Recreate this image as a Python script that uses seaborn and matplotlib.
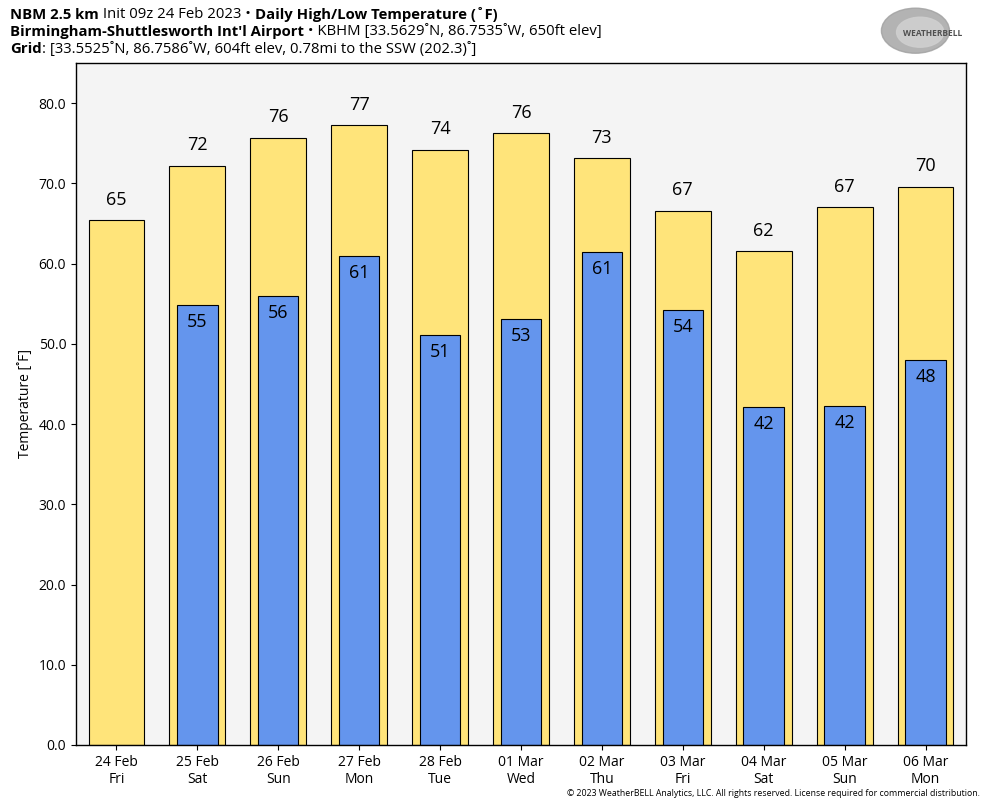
import matplotlib
matplotlib.use("Agg")
import matplotlib.pyplot as plt
import pandas as pd
import seaborn as sns
from matplotlib.patches import Ellipse

# Data
days = ['24 Feb\nFri', '25 Feb\nSat', '26 Feb\nSun', '27 Feb\nMon', '28 Feb\nTue',
        '01 Mar\nWed', '02 Mar\nThu', '03 Mar\nFri', '04 Mar\nSat', '05 Mar\nSun',
        '06 Mar\nMon']
highs = [65.4, 72.2, 75.7, 77.3, 74.2, 76.3, 73.1, 66.6, 61.6, 67.0, 69.6]
lows = [None, 54.8, 56.0, 61.0, 51.1, 53.1, 61.4, 54.2, 42.1, 42.2, 48.0]

df = pd.DataFrame({'day': days, 'high': highs, 'low': lows})

sns.set_style('ticks')
plt.rcParams['font.family'] = ['Open Sans', 'DejaVu Sans']
plt.rcParams['text.color'] = 'black'
plt.rcParams['axes.labelcolor'] = 'black'
plt.rcParams['xtick.color'] = 'black'
plt.rcParams['ytick.color'] = 'black'
plt.rcParams['axes.edgecolor'] = 'black'

fig = plt.figure(figsize=(9.84, 8.08), dpi=100)
ax = fig.add_axes([0.0772, 0.078, 0.9045, 0.844])
ax.set_facecolor('#f4f4f4')

sns.barplot(data=df, x='day', y='high', order=days, width=0.69,
            color='#ffe47a', saturation=1, edgecolor='black', linewidth=0.8, ax=ax)
sns.barplot(data=df.dropna(), x='day', y='low', order=days, width=0.5,
            color='#6495ed', saturation=1, edgecolor='black', linewidth=0.8, ax=ax)

# value labels
for i, (h, l) in enumerate(zip(highs, lows)):
    ax.text(i, h + 1.4, f'{round(h)}', ha='center', va='bottom', fontsize=13)
    if l is not None:
        ax.text(i, l - 1.0, f'{round(l)}', ha='center', va='top', fontsize=13)

ax.set_xlim(-0.5, len(days) - 0.5)
ax.set_ylim(0, 85)
ax.set_yticks(range(0, 81, 10))
ax.set_yticklabels([f'{v:.1f}' for v in range(0, 81, 10)], fontsize=10)
ax.tick_params(axis='x', labelsize=10)
ax.set_xlabel('')
ax.set_ylabel('Temperature [˚F]', fontsize=10)
for s in ax.spines.values():
    s.set_visible(True)
    s.set_linewidth(1)

# title, mixing bold and regular pieces on each line
lines = [
    [('NBM 2.5 km', 'bold'), (' Init 09z 24 Feb 2023 • ', 'normal'),
     ('Daily High/Low Temperature (˚F)', 'bold')],
    [('Birmingham-Shuttlesworth Int′l Airport', 'bold'),
     (' • KBHM [33.5629˚N, 86.7535˚W, 650ft elev]', 'normal')],
    [('Grid', 'bold'), (': [33.5525˚N, 86.7586˚W, 604ft elev, 0.78mi to the SSW (202.3)˚]', 'normal')],
]
fig.canvas.draw()
renderer = fig.canvas.get_renderer()
y0 = 1 - 15 / 808
for row in lines:
    x = 10 / 984
    for txt, w in row:
        t = fig.text(x, y0, txt, fontsize=10.7, fontweight=w, va='center', ha='left')
        bb = t.get_window_extent(renderer)
        x += bb.width / 984
    y0 -= 17 / 808

# logo stand-in
lax = fig.add_axes([0.890, 0.931, 0.096, 0.062])
lax.set_xlim(0, 1)
lax.set_ylim(0, 1)
lax.axis('off')
lax.add_patch(Ellipse((0.42, 0.5), 0.72, 0.9, color='#a0a0a0', alpha=0.8))
lax.add_patch(Ellipse((0.47, 0.47), 0.5, 0.6, color='#cfcfcf', alpha=0.9))
lax.text(0.6, 0.45, 'WEATHERBELL', fontsize=6, color='#505050', ha='center', va='center',
         fontweight='bold')

fig.text(980 / 984, 1 - 794 / 808, '© 2023 WeatherBELL Analytics, LLC. All rights reserved. '
         'License required for commercial distribution.', fontsize=6.3, ha='right', va='center')

fig.savefig('out.png', dpi=100)
